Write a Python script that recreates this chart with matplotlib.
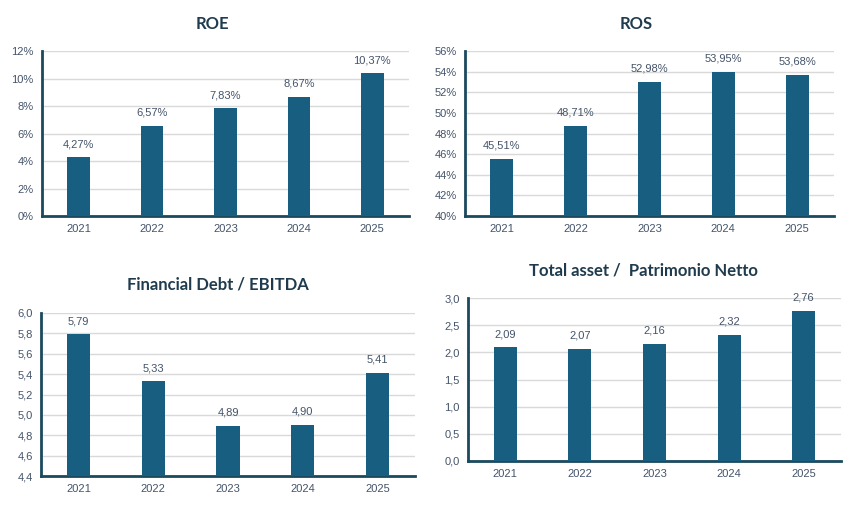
import numpy as np
import matplotlib
matplotlib.use('Agg')
import matplotlib.pyplot as plt
from matplotlib.ticker import FuncFormatter

plt.rcParams['font.family'] = ['Liberation Sans', 'DejaVu Sans']

years = ['2021', '2022', '2023', '2024', '2025']
roe = [4.27, 6.57, 7.83, 8.67, 10.37]
ros = [45.51, 48.71, 52.98, 53.95, 53.68]
debt_ebitda = [5.79, 5.33, 4.89, 4.90, 5.41]
asset_pn = [2.09, 2.07, 2.16, 2.32, 2.76]

BAR = '#175E80'
SPINE = '#1B4A5E'
TXT = '#44546A'
TITLE = '#1F3B4D'


def comma(v, dec):
    return f'{v:.{dec}f}'.replace('.', ',')


def draw(rect, title, title_xy, vals, ylim, step, tick_fmt, lab_fmt, pad):
    ax = fig.add_axes(rect)
    x = np.arange(len(vals))
    ax.bar(x, vals, width=0.31, color=BAR, zorder=3)
    ax.set_xlim(-0.5, len(vals) - 0.5)
    ax.set_ylim(*ylim)
    ax.set_yticks(np.arange(ylim[0], ylim[1] + step / 2, step))
    ax.yaxis.set_major_formatter(FuncFormatter(tick_fmt))
    ax.set_xticks(x)
    ax.set_xticklabels(years)
    ax.tick_params(length=0, labelsize=8, colors=TXT, pad=6)
    ax.grid(axis='y', color='#D9D9D9', linewidth=1, zorder=0)
    for s in ['top', 'right']:
        ax.spines[s].set_visible(False)
    for s in ['left', 'bottom']:
        ax.spines[s].set_color(SPINE)
        ax.spines[s].set_linewidth(2)
    for xi, v in zip(x, vals):
        ax.text(xi, v + pad, lab_fmt(v), ha='center', va='bottom',
                fontsize=8, color=TXT)
    fig.text(title_xy[0] / W, 1 - title_xy[1] / H, title, ha='center',
             va='center', fontsize=12, fontweight='bold', color=TITLE,
             family=['Lato', 'DejaVu Sans'])
    return ax


fig = plt.figure(figsize=(8.57, 5.2), dpi=100)
W, H = 857.0, 520.0


def r(l, t, rgt, b):
    return [l / W, 1 - b / H, (rgt - l) / W, (b - t) / H]


draw(r(42, 51, 409, 216), 'ROE', (212, 24), roe, (0, 12), 2,
     lambda v, p: f'{v:.0f}%', lambda v: comma(v, 2) + '%', 0.6)
draw(r(465, 51, 834, 216), 'ROS', (636, 24), ros, (40, 56), 2,
     lambda v, p: f'{v:.0f}%', lambda v: comma(v, 2) + '%', 0.8)
draw(r(41, 313, 415, 476), 'Financial Debt / EBITDA', (218, 285),
     debt_ebitda, (4.4, 6.0), 0.2,
     lambda v, p: comma(v, 1), lambda v: comma(v, 2), 0.08)
draw(r(468, 298, 841, 461), 'Total asset /  Patrimonio Netto', (643, 271),
     asset_pn, (0, 3.0), 0.5,
     lambda v, p: comma(v, 1), lambda v: comma(v, 2), 0.15)

fig.savefig('out.png', dpi=100, facecolor='white')
